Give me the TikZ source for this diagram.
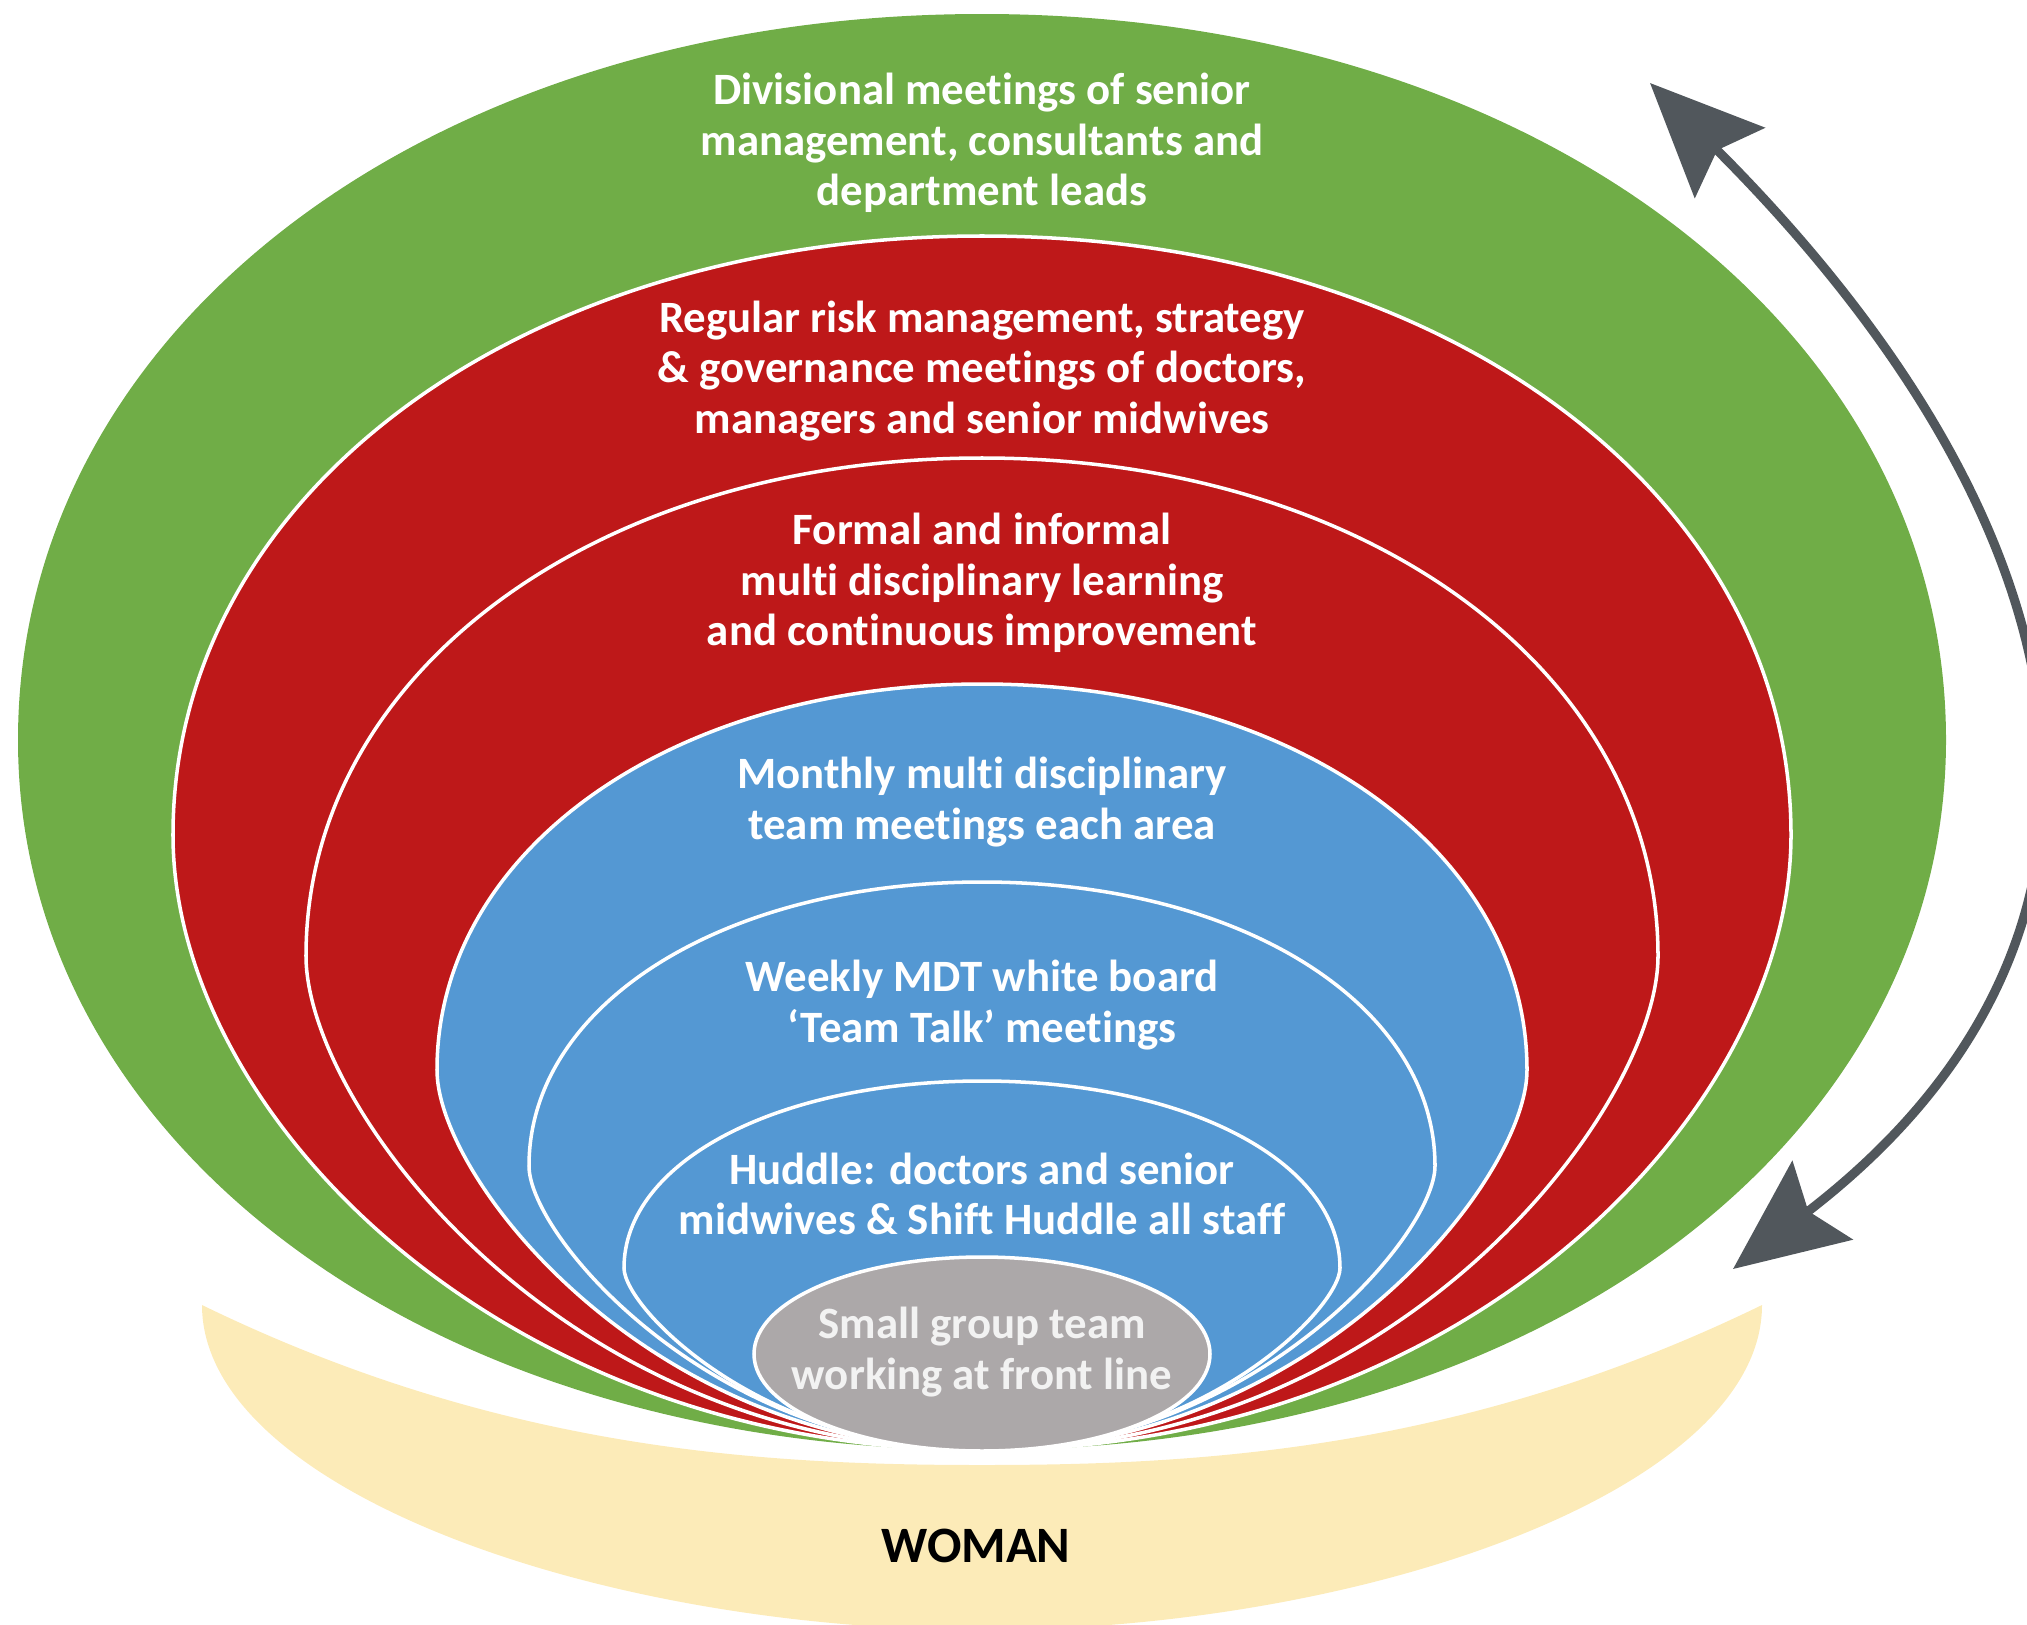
\documentclass[tikz,border=0pt]{standalone}
\usepackage{fontspec}
\setmainfont{Carlito}[Ligatures=NoCommon]
\usetikzlibrary{arrows.meta}
\definecolor{lvgreen}{RGB}{112,173,71}
\definecolor{lvred}{RGB}{190,24,25}
\definecolor{lvblue}{RGB}{84,152,211}
\definecolor{lvgray}{RGB}{172,168,169}
\definecolor{lvyellow}{RGB}{252,235,184}
\definecolor{lvarrow}{RGB}{81,87,92}
\definecolor{lvtext}{RGB}{242,242,242}
\newcommand\kk{0.57}
% #1 style, #2 half width, #3 top y, #4 widest y, #5 lower vertical handle, #6 bottom horizontal handle
\newcommand\teardropshape[6]{%
  \path[#1] (982,1450) .. controls ({982-#6},1450) and ({982-#2},{#4+#5}) .. ({982-#2},#4)
    .. controls ({982-#2},{#4-\kk*(#4-#3)}) and ({982-\kk*#2},#3) .. (982,#3)
    .. controls ({982+\kk*#2},#3) and ({982+#2},{#4-\kk*(#4-#3)}) .. ({982+#2},#4)
    .. controls ({982+#2},{#4+#5}) and ({982+#6},1450) .. (982,1450) -- cycle;}
\tikzset{
  layer/.style={fill=#1, draw=white, line width=1pt},
  txt/.style={text=white, font=\fontsize{12.75}{14.4}\selectfont\bfseries, align=center, inner sep=0pt},
  arrowline/.style={draw=lvarrow, line width=2.6pt,
    {Stealth[length=32pt, width=28pt, inset=5pt]}-{Stealth[length=32pt, width=28pt, inset=5pt]}}
}
\begin{document}
\begin{tikzpicture}[x=0.01cm, y=-0.01cm]
\useasboundingbox (0,0) rectangle (2027,1624);
\clip (0,0) rectangle (2027,1624);
% yellow bowl
\fill[lvyellow] (202,1305) .. controls (500,1450) and (760,1465) .. (982,1465)
  .. controls (1204,1465) and (1464,1450) .. (1762,1305)
  .. controls (1762,1490) and (1364,1630) .. (982,1630)
  .. controls (600,1630) and (202,1490) .. (202,1305) -- cycle;
% nested layers
\teardropshape{fill=lvgreen}{964}{14}{740}{400}{560}
\teardropshape{layer=lvred}{809}{236}{835}{280}{480}
\teardropshape{layer=lvred}{676}{458}{956}{150}{420}
\teardropshape{layer=lvblue}{545}{684}{1070}{110}{330}
\teardropshape{layer=lvblue}{453}{882}{1166}{70}{270}
\teardropshape{layer=lvblue}{358}{1081}{1268}{40}{220}
\path[layer=lvgray] (982,1354) ellipse [x radius=228, y radius=97];
% arrow
\coordinate (arrB) at (1733,1269);
\coordinate (arrT) at (1650,83);
\draw[arrowline] (arrB) .. controls (2177,928) and (2088,521) .. (arrT);
% texts
\node[txt] (t1) at (982,143) {Divisional meetings of senior\\management, consultants and\\department leads};
\node[txt] (t2) at (982,371) {Regular risk management, strategy\\\& governance meetings of doctors,\\managers and senior midwives};
\node[txt] (t3) at (982,583) {Formal and informal\\multi disciplinary learning\\and continuous improvement};
\node[txt] (t4) at (982,802) {Monthly multi disciplinary\\team meetings each area};
\node[txt] (t5) at (982,1005) {Weekly MDT white board\\‘Team Talk’ meetings};
\node[txt] (t6) at (982,1194) {Huddle: doctors and senior\\midwives \& Shift Huddle all staff};
\node[txt, text=lvtext] (t7) at (982,1352) {Small group team\\working at front line};
\node[txt, text=black, font=\fontsize{14.5}{16}\selectfont\bfseries] (woman) at (976,1546) {WOMAN};
\end{tikzpicture}
\end{document}
